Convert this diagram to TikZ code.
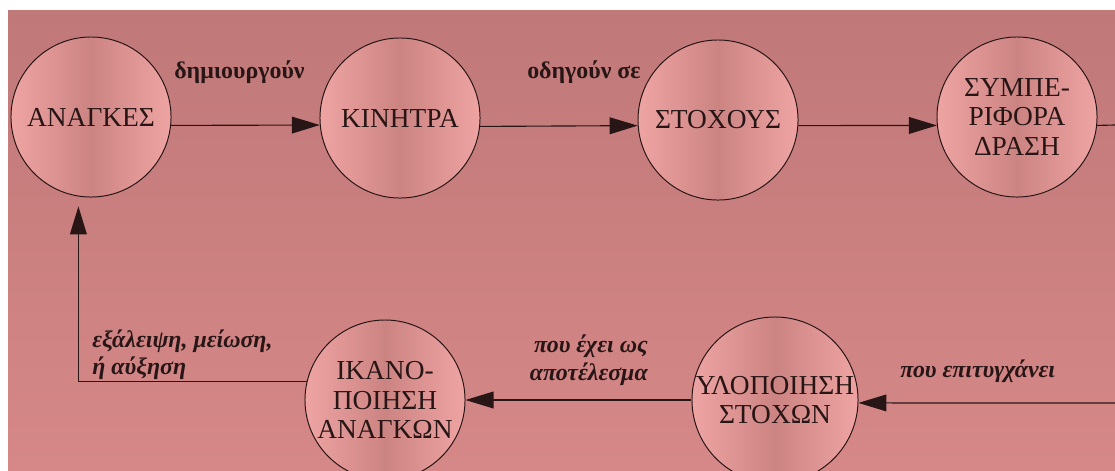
\documentclass[tikz,border=0pt]{standalone}
\usepackage{fontspec}
\setmainfont{Liberation Serif}
\usepackage{tikz}
\usetikzlibrary{calc,positioning}
\usetikzlibrary{arrows.meta}
\tikzset{>={Triangle[length=7mm,width=4.2mm]}}
\definecolor{bgtop}{RGB}{192,120,120}
\definecolor{bgbot}{RGB}{214,136,136}
\definecolor{cpink}{RGB}{238,164,162}
\definecolor{cdark}{RGB}{204,132,130}
\definecolor{ink}{RGB}{40,22,22}

\begin{document}
\begin{tikzpicture}[x=0.025cm,y=-0.025cm]
    \useasboundingbox (0,0) rectangle (1115,470);
    \fill[white] (0,0) rectangle (1115,470);
    \shade[top color=bgtop, bottom color=bgbot] (8,10) rectangle (1115,470);

    \tikzstyle{cnode} = [draw=ink, line width=0.7pt, circle, minimum size=4cm, inner sep=0pt, align=center, text=ink, font=\fontsize{19.5}{21}\selectfont, left color=cpink, right color=cpink, middle color=cdark]
    \tikzstyle{lnode} = [inner sep=0pt, text=ink, font=\fontsize{17}{19}\selectfont\bfseries]
    \tikzstyle{inode} = [inner sep=0pt, text=ink, font=\fontsize{17}{19.5}\selectfont\bfseries\itshape]
    \tikzstyle{conn} = [draw=ink, line width=0.8pt]

    % upper row
    \node[cnode] (anagkes) at (91,117) {ΑΝΑΓΚΕΣ};
    \node[cnode] (kinitra) at (400,118) {ΚΙΝΗΤΡΑ};
    \node[cnode] (stoxous) at (718,120) {ΣΤΟΧΟΥΣ};
    \node[cnode] (symper) at (1017,117) {ΣΥΜΠΕ-\\ΡΙΦΟΡΑ\\ΔΡΑΣΗ};

    % lower row
    \node[cnode] (ikanop) at (385,400) {ΙΚΑΝΟ-\\ΠΟΙΗΣΗ\\ΑΝΑΓΚΩΝ};
    \node[cnode, minimum size=4.15cm] (ylopoi) at (775,400) {ΥΛΟΠΟΙΗΣΗ\\ΣΤΟΧΩΝ};

    \coordinate (rtop) at (1115,125);
    \coordinate (rbot) at (1115,403);

    % labels
    \node[lnode, anchor=west] (ldimiourg) at (174,72) {δημιουργούν};
    \node[lnode, anchor=west] (lodigoun) at (527,72) {οδηγούν σε};
    \node[inode, anchor=west] (lepitygx) at (900,371) {που επιτυγχάνει};
    \node[inode, anchor=east, align=right] (lapotel) at (648,360) {που έχει ως\\αποτέλεσμα};
    \node[inode, anchor=west, align=left] (lexal) at (92,355) {εξάλειψη, μείωση,\\ή αύξηση};

    % edges upper row
    \draw[conn, ->] (anagkes.-6) -- (kinitra.185);
    \draw[conn, ->] (kinitra.-6.5) -- (stoxous.184);
    \draw[conn, ->] (stoxous.-4) -- (symper.186);
    \draw[conn] (symper.-6) -- (rtop);

    % edges lower row
    \draw[conn, ->] (rbot) -- (ylopoi.-2);
    \draw[conn, ->] (ylopoi.180) -- (ikanop.0);
    \draw[conn, ->, shorten >=7pt] (ikanop.167) -| (anagkes.-99);
\end{tikzpicture}
\end{document}
